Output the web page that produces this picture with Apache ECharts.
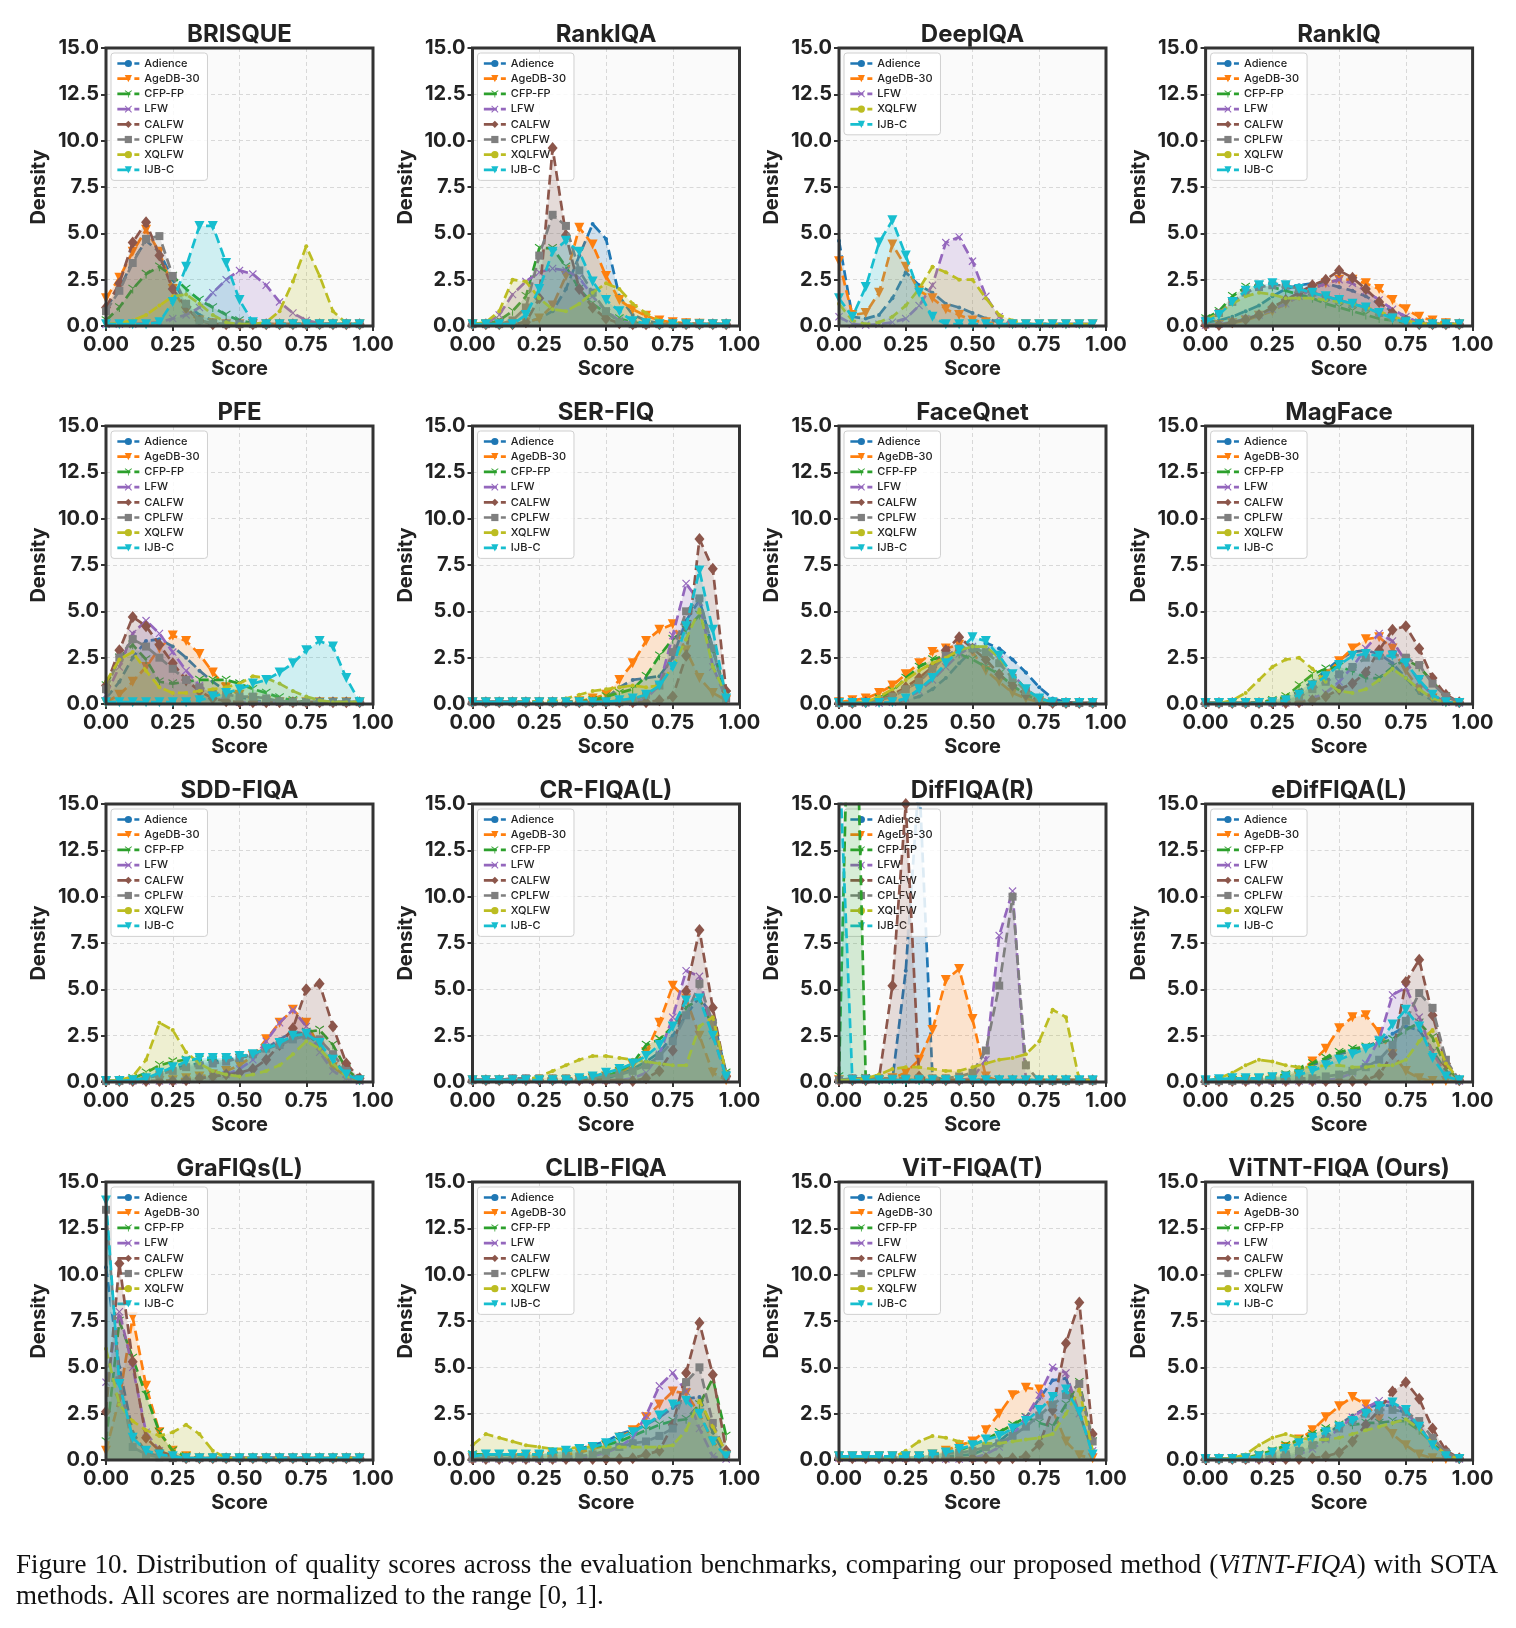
<!DOCTYPE html>
<html>
<head>
<meta charset="utf-8">
<script src="https://cdn.jsdelivr.net/npm/echarts@6/dist/echarts.min.js"></script>
<style>
html,body{margin:0;padding:0;background:#fff;}
#chart{width:1516px;height:1628px;}
</style>
</head>
<body>
<div id="chart"></div>
<script>
// ---------------- DATA ----------------
const SCORE_BINS = [0.00,0.05,0.10,0.15,0.20,0.25,0.30,0.35,0.40,0.45,0.50,0.55,0.60,0.65,0.70,0.75,0.80,0.85,0.90,0.95];
const X_TICKS = [0, 0.25, 0.5, 0.75, 1.0];
const Y_TICKS = [0, 2.5, 5, 7.5, 10, 12.5, 15];
const ALL_SETS = ['Adience','AgeDB-30','CFP-FP','LFW','CALFW','CPLFW','XQLFW','IJB-C'];
const DEEPIQA_SETS = ['Adience','AgeDB-30','LFW','XQLFW','IJB-C'];
const PANEL_TITLES = ['BRISQUE','RankIQA','DeepIQA','RankIQ','PFE','SER-FIQ','FaceQnet','MagFace',
  'SDD-FIQA','CR-FIQA(L)','DifFIQA(R)','eDifFIQA(L)','GraFIQs(L)','CLIB-FIQA','ViT-FIQA(T)','ViTNT-FIQA (Ours)'];

const BRISQUE = [
  [1.0,2.0,3.5,4.6,4.0,2.5,1.2,0.6,0.3,0.15,0.1,0.1,0.1,0.1,0.1,0.1,0.1,0.1,0.1,0.1],
  [1.5,2.6,4.0,5.2,4.0,2.0,0.8,0.3,0.15,0.1,0.1,0.1,0.1,0.1,0.1,0.1,0.1,0.1,0.1,0.1],
  [0.3,1.0,2.0,2.8,3.2,2.7,2.0,1.4,1.0,0.6,0.3,0.15,0.1,0.1,0.1,0.1,0.1,0.1,0.1,0.1],
  [0.1,0.1,0.1,0.15,0.2,0.4,0.6,1.0,1.8,2.5,3.0,2.8,2.2,1.3,0.7,0.3,0.15,0.1,0.1,0.1],
  [1.0,2.3,4.5,5.6,3.8,2.0,1.0,0.3,0.1,0.1,0.1,0.1,0.1,0.1,0.1,0.1,0.1,0.1,0.1,0.1],
  [0.8,1.9,3.4,4.7,4.85,2.7,1.2,0.3,0.15,0.1,0.1,0.1,0.1,0.1,0.1,0.1,0.1,0.1,0.1,0.1],
  [0.1,0.15,0.3,0.6,1.1,1.6,1.7,1.2,0.6,0.2,0.1,0.1,0.2,0.8,2.4,4.3,2.7,0.8,0.15,0.1],
  [0.1,0.1,0.1,0.1,0.2,1.3,3.2,5.4,5.4,3.4,1.4,0.2,0.1,0.1,0.1,0.1,0.1,0.1,0.1,0.1]
];
const RANKIQA = [
  [0.1,0.1,0.1,0.1,0.2,0.4,0.8,2.0,3.8,5.5,4.7,1.6,0.6,0.3,0.15,0.1,0.1,0.1,0.1,0.1],
  [0.1,0.1,0.1,0.1,0.2,0.4,1.1,2.7,5.3,4.4,2.7,1.4,0.9,0.55,0.3,0.2,0.15,0.12,0.1,0.1],
  [0.1,0.1,0.3,0.8,1.6,4.2,4.2,3.2,2.0,1.2,0.7,0.4,0.2,0.1,0.1,0.1,0.1,0.1,0.1,0.1],
  [0.1,0.1,0.6,1.7,2.4,2.9,3.1,3.0,2.6,1.6,0.8,0.3,0.1,0.1,0.1,0.1,0.1,0.1,0.1,0.1],
  [0.1,0.1,0.1,0.1,0.2,1.5,9.6,4.9,2.0,1.0,0.4,0.15,0.1,0.1,0.1,0.1,0.1,0.1,0.1,0.1],
  [0.1,0.1,0.1,0.3,1.0,3.8,6.0,5.4,3.0,1.8,0.8,0.2,0.1,0.1,0.1,0.1,0.1,0.1,0.1,0.1],
  [0.1,0.2,0.8,2.5,2.4,1.5,0.9,0.8,1.2,1.8,2.3,2.0,1.2,0.7,0.3,0.15,0.1,0.1,0.1,0.1],
  [0.1,0.1,0.1,0.1,0.6,2.0,4.0,4.6,4.0,2.4,1.4,0.8,0.25,0.15,0.1,0.1,0.1,0.1,0.1,0.1]
];
const DEEPIQA = [
  [4.6,0.5,0.4,0.6,1.5,2.9,2.2,1.8,1.2,1.0,0.7,0.4,0.2,0.1,0.1,0.1,0.1,0.1,0.1,0.1],
  [3.5,0.6,0.7,1.8,4.4,3.2,1.9,1.5,0.9,0.6,0.3,0.2,0.1,0.1,0.1,0.1,0.1,0.1,0.1,0.1],
  [0.5,0.1,0.05,0.1,0.2,0.4,1.1,2.2,4.5,4.8,3.5,1.6,0.5,0.1,0.1,0.1,0.1,0.1,0.1,0.1],
  [1.2,0.3,0.1,0.2,0.5,1.1,2.0,3.2,2.9,2.5,2.5,1.5,0.6,0.3,0.1,0.1,0.1,0.1,0.1,0.1],
  [1.5,0.5,2.1,4.5,5.7,3.8,1.8,0.5,0.1,0.1,0.1,0.1,0.1,0.1,0.1,0.1,0.1,0.1,0.1,0.1]
];
const RANKIQ = [
  [0.2,0.3,0.5,0.8,1.1,1.6,2.0,2.2,2.3,2.3,2.1,1.9,1.6,1.2,0.8,0.5,0.25,0.1,0.1,0.1],
  [0.05,0.05,0.15,0.3,0.55,0.8,1.2,1.6,2.0,2.3,2.5,2.5,2.3,2.0,1.4,0.9,0.5,0.3,0.15,0.1],
  [0.4,0.8,1.6,2.1,2.2,2.1,1.9,1.7,1.5,1.2,1.0,0.8,0.6,0.4,0.3,0.15,0.1,0.1,0.1,0.1],
  [0.05,0.1,0.2,0.4,0.6,0.9,1.2,1.6,2.0,2.3,2.5,2.3,1.9,1.4,0.9,0.5,0.2,0.1,0.1,0.1],
  [0.05,0.05,0.2,0.35,0.6,1.0,1.4,1.8,2.2,2.5,3.0,2.6,2.0,1.3,0.7,0.3,0.1,0.1,0.1,0.1],
  [0.3,0.7,1.3,1.8,2.1,2.2,2.2,2.0,1.8,1.6,1.4,1.2,1.0,0.7,0.5,0.3,0.15,0.1,0.1,0.1],
  [0.3,0.7,1.2,1.6,1.8,1.7,1.5,1.5,1.5,1.4,1.3,1.2,1.0,0.8,0.5,0.3,0.15,0.1,0.1,0.1],
  [0.2,0.6,1.3,1.9,2.2,2.3,2.2,2.0,1.8,1.6,1.4,1.2,1.0,0.7,0.4,0.2,0.1,0.1,0.1,0.1]
];
const PFE = [
  [0.3,1.2,2.5,3.4,3.5,3.1,2.5,1.8,1.2,0.7,0.4,0.2,0.1,0.1,0.1,0.1,0.1,0.1,0.1,0.1],
  [0.1,0.5,1.2,2.0,3.0,3.7,3.4,2.7,1.7,0.9,0.5,0.3,0.15,0.1,0.1,0.1,0.1,0.1,0.1,0.1],
  [1.0,2.5,3.2,2.4,1.2,1.1,1.2,1.3,1.3,1.3,1.1,0.8,0.6,0.35,0.2,0.1,0.1,0.1,0.1,0.1],
  [0.5,2.0,3.8,4.5,3.8,2.8,1.8,1.0,0.5,0.2,0.1,0.1,0.1,0.1,0.1,0.1,0.1,0.1,0.1,0.1],
  [1.0,2.9,4.7,4.2,3.2,2.2,1.3,0.7,0.3,0.15,0.1,0.1,0.1,0.1,0.1,0.1,0.1,0.1,0.1,0.1],
  [0.8,2.5,3.5,3.1,2.5,1.9,1.3,0.9,0.6,0.5,0.4,0.4,0.3,0.15,0.1,0.1,0.1,0.1,0.1,0.1],
  [1.2,2.4,2.8,1.8,0.9,0.6,0.6,0.7,0.8,0.9,1.1,1.5,1.4,1.1,0.7,0.4,0.2,0.1,0.1,0.1],
  [0.1,0.1,0.1,0.1,0.1,0.1,0.1,0.2,0.4,0.6,0.8,1.1,1.3,1.7,2.2,2.9,3.4,3.1,1.4,0.1]
];
const SERFIQ = [
  [0.1,0.1,0.1,0.1,0.1,0.1,0.1,0.1,0.1,0.2,0.3,0.9,1.3,1.4,1.5,2.5,4.5,5.6,3.0,0.3],
  [0.1,0.1,0.1,0.1,0.1,0.1,0.1,0.1,0.15,0.3,0.5,1.3,2.2,3.4,4.0,4.3,2.9,1.4,0.6,0.2],
  [0.1,0.1,0.1,0.1,0.1,0.1,0.1,0.1,0.15,0.2,0.4,0.6,0.8,1.5,2.6,3.5,4.0,4.8,3.0,0.5],
  [0.1,0.1,0.1,0.1,0.1,0.1,0.1,0.1,0.1,0.1,0.1,0.1,0.1,0.3,1.0,3.7,6.5,5.5,2.0,0.3],
  [0.1,0.1,0.1,0.1,0.1,0.1,0.1,0.1,0.1,0.1,0.1,0.1,0.1,0.1,0.2,0.4,2.6,8.9,7.3,0.7],
  [0.1,0.1,0.1,0.1,0.1,0.1,0.1,0.1,0.1,0.1,0.1,0.1,0.2,0.5,1.0,2.8,5.0,5.7,3.0,0.3],
  [0.05,0.05,0.05,0.1,0.1,0.15,0.2,0.3,0.5,0.7,0.8,0.9,1.0,0.9,1.0,2.0,3.5,5.1,2.0,0.5],
  [0.1,0.1,0.1,0.1,0.1,0.1,0.1,0.1,0.1,0.1,0.1,0.2,0.3,0.5,1.0,2.0,4.2,7.2,4.0,0.3]
];
const FACEQNET = [
  [0.05,0.05,0.05,0.05,0.05,0.2,0.4,0.8,1.4,2.2,2.9,3.3,3.0,2.4,1.7,0.9,0.3,0.1,0.05,0.05],
  [0.1,0.2,0.3,0.6,1.0,1.6,2.2,2.8,3.0,3.2,2.8,1.8,1.2,0.6,0.3,0.1,0.05,0.05,0.05,0.05],
  [0.05,0.05,0.1,0.3,0.7,1.4,2.0,2.4,2.6,2.7,2.4,2.0,1.6,1.0,0.5,0.2,0.1,0.05,0.05,0.05],
  [0.05,0.05,0.05,0.05,0.1,0.3,0.7,1.3,2.0,2.7,3.1,2.9,2.4,1.6,0.8,0.3,0.1,0.05,0.05,0.05],
  [0.05,0.05,0.1,0.2,0.5,0.9,1.4,2.0,2.9,3.6,3.0,2.4,1.6,1.0,0.5,0.2,0.05,0.05,0.05,0.05],
  [0.05,0.05,0.1,0.2,0.4,0.8,1.2,1.9,2.6,3.0,3.0,2.8,2.2,1.4,0.7,0.3,0.1,0.05,0.05,0.05],
  [0.05,0.05,0.1,0.4,0.8,1.3,1.8,2.2,2.5,2.9,3.1,3.1,2.5,1.6,0.8,0.3,0.1,0.05,0.05,0.05],
  [0.05,0.05,0.05,0.05,0.1,0.3,0.8,1.4,2.2,2.9,3.6,3.4,2.6,1.6,0.8,0.3,0.1,0.05,0.05,0.05]
];
const MAGFACE = [
  [0.05,0.05,0.05,0.05,0.1,0.2,0.3,0.7,1.2,1.8,2.4,2.8,2.9,2.7,2.2,1.4,0.6,0.2,0.05,0.05],
  [0.05,0.05,0.05,0.05,0.05,0.1,0.2,0.5,1.0,1.6,2.3,3.0,3.5,3.6,3.0,1.8,0.8,0.3,0.1,0.05],
  [0.05,0.05,0.05,0.05,0.1,0.2,0.4,1.0,1.6,1.9,2.0,1.8,1.4,1.4,2.0,2.4,2.0,1.2,0.4,0.1],
  [0.05,0.05,0.05,0.05,0.05,0.05,0.05,0.1,0.3,0.6,1.2,2.0,3.0,3.8,3.4,2.3,1.2,0.5,0.1,0.05],
  [0.05,0.05,0.05,0.05,0.05,0.05,0.05,0.1,0.2,0.4,0.8,1.1,1.7,2.9,4.0,4.2,3.0,1.4,0.5,0.1],
  [0.05,0.05,0.05,0.05,0.05,0.1,0.2,0.4,0.8,1.2,1.6,2.0,2.5,2.6,2.7,2.5,2.1,1.1,0.4,0.1],
  [0.05,0.05,0.2,0.6,1.3,2.0,2.4,2.5,1.9,1.2,0.7,0.6,0.8,1.3,1.9,1.4,0.8,0.3,0.1,0.05],
  [0.05,0.05,0.05,0.05,0.05,0.1,0.2,0.5,1.0,1.5,2.1,2.6,2.7,2.6,2.6,2.2,1.3,0.5,0.1,0.05]
];
const SDDFIQA = [
  [0.05,0.05,0.1,0.2,0.4,0.7,0.9,1.0,1.1,1.2,1.3,1.5,1.8,2.3,2.7,2.6,2.0,1.2,0.4,0.1],
  [0.05,0.05,0.05,0.05,0.05,0.1,0.2,0.3,0.4,0.6,0.9,1.4,2.3,3.2,3.9,3.2,1.9,0.8,0.3,0.1],
  [0.05,0.05,0.2,0.5,0.9,1.1,1.2,1.2,1.2,1.2,1.3,1.5,1.8,2.1,2.4,2.7,2.8,2.0,0.7,0.1],
  [0.05,0.05,0.05,0.05,0.05,0.05,0.1,0.2,0.3,0.4,0.7,1.2,2.2,3.2,3.9,3.0,1.6,0.6,0.2,0.05],
  [0.05,0.05,0.05,0.05,0.05,0.05,0.1,0.2,0.3,0.4,0.5,0.7,1.2,2.0,2.9,5.0,5.3,3.0,1.0,0.2],
  [0.05,0.05,0.1,0.2,0.4,0.6,0.8,0.9,1.0,1.1,1.3,1.5,1.8,2.0,2.3,2.5,2.3,1.5,0.6,0.1],
  [0.05,0.1,0.3,1.2,3.2,2.8,1.6,1.0,0.6,0.4,0.3,0.4,0.6,0.9,1.5,2.2,1.8,1.0,0.3,0.1],
  [0.05,0.05,0.1,0.2,0.5,0.8,1.1,1.3,1.3,1.3,1.4,1.5,1.8,2.1,2.5,2.6,2.1,1.2,0.4,0.1]
];
const CRFIQA = [
  [0.1,0.1,0.1,0.1,0.1,0.1,0.1,0.1,0.1,0.15,0.2,0.4,0.7,1.1,1.6,2.5,3.6,4.6,3.5,0.5],
  [0.1,0.1,0.1,0.1,0.1,0.1,0.1,0.1,0.1,0.2,0.3,0.5,0.9,1.6,3.2,5.2,4.5,2.5,0.5,0.1],
  [0.1,0.1,0.1,0.1,0.1,0.1,0.1,0.1,0.15,0.2,0.3,0.6,1.0,2.0,2.3,3.0,4.0,4.5,3.0,0.5],
  [0.1,0.1,0.1,0.1,0.1,0.1,0.1,0.1,0.1,0.1,0.1,0.1,0.2,0.5,1.5,3.5,6.0,5.7,2.5,0.3],
  [0.1,0.1,0.1,0.1,0.1,0.1,0.1,0.1,0.1,0.1,0.1,0.1,0.05,0.2,0.6,1.7,4.9,8.2,4.0,0.3],
  [0.1,0.1,0.1,0.2,0.2,0.2,0.2,0.2,0.2,0.25,0.3,0.4,0.6,0.9,1.4,2.2,3.6,5.3,3.2,0.4],
  [0.05,0.05,0.05,0.05,0.1,0.3,0.6,0.9,1.2,1.4,1.4,1.3,1.2,1.1,1.0,0.9,0.9,3.0,3.5,0.5],
  [0.1,0.1,0.1,0.1,0.1,0.1,0.1,0.1,0.2,0.3,0.5,0.7,1.0,1.4,2.0,3.0,4.4,4.5,2.5,0.3]
];
const DIFFIQA = [
  [0.1,0.1,0.1,0.1,0.1,6.0,16.5,0.3,0.1,0.1,0.1,0.1,0.1,0.1,0.1,0.1,0.1,0.1,0.1,0.1],
  [0.1,0.1,0.1,0.1,0.2,0.5,1.2,2.8,5.5,6.1,3.4,0.3,0.05,0.05,0.05,0.05,0.05,0.05,0.05,0.05],
  [0.3,30.0,0.2,0.1,0.1,0.1,0.1,0.1,0.1,0.1,0.1,0.1,0.1,0.1,0.1,0.1,0.1,0.1,0.1,0.1],
  [0.1,0.1,0.1,0.1,0.1,0.1,0.1,0.1,0.1,0.1,0.2,1.2,7.9,10.3,0.1,0.1,0.1,0.1,0.1,0.1],
  [0.1,0.1,0.1,0.2,5.2,15.0,0.3,0.1,0.1,0.1,0.1,0.1,0.1,0.1,0.1,0.1,0.1,0.1,0.1,0.1],
  [0.1,0.2,0.2,0.2,0.2,0.2,0.2,0.2,0.2,0.3,0.5,1.7,5.2,10.0,0.9,0.05,0.05,0.05,0.05,0.05],
  [0.1,0.1,0.2,0.4,0.7,0.8,0.8,0.7,0.6,0.6,0.8,1.0,1.2,1.3,1.5,2.2,3.9,3.5,0.1,0.1],
  [18.0,0.1,0.1,0.1,0.1,0.1,0.1,0.1,0.1,0.1,0.1,0.1,0.1,0.1,0.1,0.1,0.1,0.1,0.1,0.1]
];
const EDIFFIQA = [
  [0.05,0.05,0.05,0.1,0.15,0.2,0.3,0.6,0.9,1.2,1.5,1.7,1.9,2.2,2.6,3.0,2.8,1.7,0.6,0.1],
  [0.05,0.05,0.05,0.1,0.15,0.2,0.3,0.6,1.1,1.8,2.9,3.5,3.6,2.7,1.5,0.6,0.2,0.05,0.05,0.05],
  [0.05,0.05,0.1,0.15,0.2,0.3,0.4,0.7,1.0,1.3,1.6,1.8,1.9,2.1,2.3,2.8,3.2,2.4,0.8,0.1],
  [0.05,0.05,0.05,0.05,0.05,0.05,0.05,0.05,0.05,0.1,0.2,0.5,1.0,2.3,4.7,5.1,3.5,1.6,0.4,0.05],
  [0.05,0.05,0.05,0.05,0.05,0.05,0.05,0.05,0.05,0.05,0.05,0.05,0.1,0.4,1.5,5.4,6.6,3.6,1.0,0.1],
  [0.05,0.05,0.05,0.1,0.1,0.1,0.15,0.2,0.2,0.3,0.4,0.6,0.8,1.2,2.0,3.3,4.8,4.0,1.2,0.1],
  [0.05,0.2,0.5,0.9,1.2,1.1,0.9,0.8,0.8,0.9,0.9,0.8,0.8,0.9,0.9,1.2,2.2,2.8,1.0,0.1],
  [0.1,0.15,0.2,0.2,0.2,0.25,0.3,0.4,0.6,0.9,1.2,1.5,1.8,2.2,3.1,3.9,3.0,1.3,0.3,0.1]
];
const GRAFIQS = [
  [10.4,5.0,1.5,0.4,0.2,0.1,0.1,0.1,0.1,0.1,0.1,0.1,0.1,0.1,0.1,0.1,0.1,0.1,0.1,0.1],
  [0.5,3.3,7.7,4.0,1.5,0.5,0.2,0.1,0.1,0.1,0.1,0.1,0.1,0.1,0.1,0.1,0.1,0.1,0.1,0.1],
  [1.0,7.5,5.5,3.5,1.5,0.5,0.2,0.1,0.1,0.1,0.1,0.1,0.1,0.1,0.1,0.1,0.1,0.1,0.1,0.1],
  [4.2,8.0,5.0,1.5,0.5,0.2,0.1,0.1,0.1,0.1,0.1,0.1,0.1,0.1,0.1,0.1,0.1,0.1,0.1,0.1],
  [2.6,10.6,5.3,1.2,0.5,0.2,0.1,0.1,0.1,0.1,0.1,0.1,0.1,0.1,0.1,0.1,0.1,0.1,0.1,0.1],
  [13.5,4.3,0.7,0.3,0.15,0.1,0.1,0.1,0.1,0.1,0.1,0.1,0.1,0.1,0.1,0.1,0.1,0.1,0.1,0.1],
  [6.0,3.0,2.1,1.6,1.3,1.5,1.9,1.4,0.5,0.1,0.1,0.1,0.1,0.1,0.1,0.1,0.1,0.1,0.1,0.1],
  [14.0,4.1,1.2,0.5,0.3,0.2,0.1,0.1,0.1,0.1,0.1,0.1,0.1,0.1,0.1,0.1,0.1,0.1,0.1,0.1]
];
const CLIBFIQA = [
  [0.3,0.3,0.3,0.3,0.3,0.3,0.4,0.5,0.6,0.8,1.0,1.4,1.6,1.9,2.3,2.8,3.3,3.4,1.5,0.2],
  [0.1,0.1,0.1,0.1,0.15,0.2,0.25,0.3,0.4,0.6,0.8,1.2,1.6,2.3,3.0,3.7,3.6,2.5,1.0,0.2],
  [0.3,0.3,0.3,0.3,0.3,0.3,0.4,0.5,0.6,0.7,0.8,1.0,1.3,1.6,1.9,2.1,2.2,3.0,4.4,1.3],
  [0.05,0.05,0.05,0.05,0.05,0.05,0.05,0.1,0.1,0.2,0.4,0.7,1.2,2.4,4.0,4.7,3.7,1.7,0.2,0.05],
  [0.05,0.05,0.05,0.05,0.05,0.05,0.05,0.05,0.05,0.05,0.05,0.05,0.1,0.3,0.5,1.9,4.7,7.4,4.6,0.5],
  [0.1,0.1,0.1,0.1,0.1,0.1,0.1,0.2,0.2,0.3,0.5,0.7,0.9,1.0,1.3,1.7,4.2,5.0,2.0,0.3],
  [0.8,1.4,1.2,1.0,0.8,0.7,0.6,0.6,0.7,0.7,0.7,0.7,0.7,0.7,0.7,0.8,1.6,3.2,1.8,0.4],
  [0.2,0.3,0.3,0.3,0.3,0.3,0.4,0.5,0.6,0.7,0.9,1.2,1.5,1.9,2.4,3.0,3.2,2.5,1.0,0.2]
];
const VITFIQA = [
  [0.2,0.2,0.2,0.2,0.2,0.2,0.2,0.2,0.2,0.25,0.3,0.6,1.0,1.6,2.3,3.3,4.3,4.4,2.5,0.5],
  [0.2,0.2,0.2,0.2,0.2,0.2,0.2,0.3,0.5,0.8,1.0,1.6,2.5,3.5,3.9,3.8,2.7,1.0,0.25,0.1],
  [0.2,0.2,0.2,0.2,0.2,0.2,0.2,0.3,0.4,0.5,0.8,1.1,1.5,1.9,2.3,2.0,1.8,3.0,4.2,1.0],
  [0.1,0.1,0.1,0.1,0.1,0.1,0.1,0.1,0.05,0.05,0.1,0.3,0.7,1.3,2.3,3.5,5.0,4.7,2.5,0.5],
  [0.1,0.1,0.1,0.1,0.1,0.1,0.1,0.1,0.1,0.1,0.1,0.1,0.05,0.1,0.2,0.85,2.7,6.3,8.5,1.4],
  [0.2,0.2,0.2,0.2,0.2,0.2,0.2,0.3,0.35,0.4,0.5,0.7,0.9,1.3,1.8,2.4,3.0,3.5,4.1,1.0],
  [0.05,0.05,0.05,0.05,0.1,0.5,1.0,1.3,1.2,1.0,0.9,0.9,0.9,1.0,1.1,1.2,1.4,2.5,3.8,0.5],
  [0.2,0.2,0.2,0.2,0.2,0.2,0.2,0.3,0.4,0.6,0.8,1.1,1.3,1.7,2.1,2.7,3.4,3.8,2.6,0.3]
];
const VITNTFIQA = [
  [0.05,0.05,0.05,0.05,0.05,0.1,0.2,0.4,0.8,1.3,1.9,2.4,2.8,3.0,2.9,2.5,1.7,0.9,0.3,0.1],
  [0.05,0.05,0.05,0.1,0.2,0.4,0.7,1.1,1.6,2.3,2.9,3.4,3.0,2.2,1.4,0.8,0.3,0.1,0.05,0.05],
  [0.05,0.05,0.05,0.1,0.3,0.5,0.8,1.1,1.4,1.7,1.9,1.9,2.0,2.0,2.1,2.1,1.6,0.9,0.3,0.05],
  [0.05,0.05,0.05,0.05,0.05,0.05,0.1,0.3,0.6,1.1,1.7,2.3,2.8,3.2,3.1,2.6,1.8,0.9,0.3,0.05],
  [0.05,0.05,0.05,0.05,0.05,0.05,0.05,0.05,0.1,0.2,0.4,1.0,1.9,2.7,3.7,4.2,3.3,1.7,0.5,0.1],
  [0.05,0.05,0.05,0.05,0.1,0.2,0.3,0.5,0.8,1.2,1.7,2.1,2.5,2.7,2.7,2.6,2.1,1.2,0.4,0.1],
  [0.05,0.05,0.1,0.3,0.8,1.2,1.4,1.2,1.1,1.1,1.2,1.4,1.6,1.8,2.0,2.2,1.7,0.9,0.3,0.05],
  [0.05,0.05,0.05,0.1,0.2,0.4,0.6,0.9,1.2,1.5,1.8,2.1,2.5,2.9,3.1,2.7,1.8,0.8,0.2,0.05]
];

const PANEL_DATA = [BRISQUE,RANKIQA,DEEPIQA,RANKIQ,PFE,SERFIQ,FACEQNET,MAGFACE,
  SDDFIQA,CRFIQA,DIFFIQA,EDIFFIQA,GRAFIQS,CLIBFIQA,VITFIQA,VITNTFIQA];
const PANEL_SETS = PANEL_TITLES.map(t => t === 'DeepIQA' ? DEEPIQA_SETS : ALL_SETS);

const CAPTION_LINE1 = [
  [['Figure',0]],[['10.',0]],[['Distribution',0]],[['of',0]],[['quality',0]],[['scores',0]],[['across',0]],
  [['the',0]],[['evaluation',0]],[['benchmarks,',0]],[['comparing',0]],[['our',0]],[['proposed',0]],
  [['method',0]],[['(',0],['ViTNT-FIQA',1],[')',0]],[['with',0]],[['SOTA',0]]
];
const CAPTION_LINE2 = 'methods. All scores are normalized to the range [0, 1].';

// ---------------- STYLE ----------------
const COLORS = {
  'Adience':'#1f77b4','AgeDB-30':'#ff7f0e','CFP-FP':'#2ca02c','LFW':'#9467bd',
  'CALFW':'#8c564b','CPLFW':'#7f7f7f','XQLFW':'#bcbd22','IJB-C':'#17becf'
};
const TRI_DOWN_Y = 'path://M9,10 L9,20 L11,20 L11,10 Z M10,9 L1.8,4.2 L0.8,6 L9,10.8 Z M10,9 L18.2,4.2 L19.2,6 L11,10.8 Z';
const X_MARK = 'path://M1,0 L5,4 L9,0 L10,1 L6,5 L10,9 L9,10 L5,6 L1,10 L0,9 L4,5 L0,1 Z';
const MARKERS = {
  'Adience':{symbol:'circle',size:4,rot:0},
  'AgeDB-30':{symbol:'triangle',size:10,rot:180},
  'CFP-FP':{symbol:TRI_DOWN_Y,size:9,rot:0},
  'LFW':{symbol:X_MARK,size:8,rot:0},
  'CALFW':{symbol:'diamond',size:[10,12],rot:0},
  'CPLFW':{symbol:'rect',size:8,rot:0},
  'XQLFW':{symbol:'circle',size:4,rot:0},
  'IJB-C':{symbol:'triangle',size:10,rot:180}
};
const FONT = 'Inter, "DejaVu Sans", sans-serif';
const COL_LEFT = [106, 472.5, 839, 1205.6];
const ROW_TOP = [48, 426, 804, 1182];
const PW = 267, PH = 278;

// ---------------- BUILD ----------------
const grid=[], xAxis=[], yAxis=[], series=[], legend=[], title=[], graphic=[];
PANEL_TITLES.forEach((name, p) => {
  const r = Math.floor(p/4), c = p%4;
  const L = COL_LEFT[c], T = ROW_TOP[r];
  grid.push({left:L, top:T, width:PW, height:PH, show:true, backgroundColor:'#fafafa',
    borderColor:'#333', borderWidth:0, containLabel:false});
  graphic.push({type:'rect', silent:true, z:50, shape:{x:L, y:T, width:PW, height:PH},
    style:{fill:null, stroke:'#333', lineWidth:3}});
  title.push({text:name, left:L+PW/2, top:T-25, textAlign:'center', padding:0,
    textStyle:{fontFamily:FONT, fontSize:24, fontWeight:'bold', color:'#222'}});
  xAxis.push({type:'value', gridIndex:p, min:0, max:1, interval:0.25,
    axisLine:{show:false},
    axisTick:{show:true, length:5, lineStyle:{color:'#333', width:2}},
    axisLabel:{formatter:v=>v.toFixed(2), fontFamily:FONT, fontSize:20, fontWeight:'bold', color:'#222', margin:9},
    splitLine:{show:true, lineStyle:{color:'#d8d8d8', type:[4,3], width:1}},
    name:'Score', nameLocation:'middle', nameGap:33,
    nameTextStyle:{fontFamily:FONT, fontSize:20, fontWeight:'bold', color:'#222'}});
  yAxis.push({type:'value', gridIndex:p, min:0, max:15, interval:2.5,
    axisLine:{show:false},
    axisTick:{show:true, length:5, lineStyle:{color:'#333', width:2}},
    axisLabel:{formatter:v=>v.toFixed(1), fontFamily:FONT, fontSize:20, fontWeight:'bold', color:'#222', margin:7},
    splitLine:{show:true, lineStyle:{color:'#d8d8d8', type:[4,3], width:1}},
    name:'Density', nameLocation:'middle', nameGap:57,
    nameTextStyle:{fontFamily:FONT, fontSize:20, fontWeight:'bold', color:'#222'}});
  const sets = PANEL_SETS[p];
  sets.forEach((ds, k) => {
    const col = COLORS[ds], m = MARKERS[ds];
    series.push({
      type:'line', name:ds, xAxisIndex:p, yAxisIndex:p,
      data: SCORE_BINS.map((x,i)=>[x, PANEL_DATA[p][k][i]]),
      symbol:m.symbol, symbolSize:m.size, symbolRotate:m.rot, showSymbol:true, showAllSymbol:true,
      lineStyle:{color:col, width:2.7, type:[10,5]},
      itemStyle:{color:col, borderWidth:0},
      areaStyle:{color:col, opacity:0.19},
      clip:true, animation:false, silent:true, z:2+k
    });
  });
  legend.push({data:sets, orient:'vertical', left:L+5, top:T+5,
    itemWidth:22, itemHeight:9, itemGap:2.2,
    backgroundColor:'rgba(255,255,255,0.85)', borderColor:'#d0d0d0', borderWidth:1, borderRadius:3,
    padding:[4,8,4,5], selectedMode:false,
    lineStyle:{type:[13,4], width:2.7},
    textStyle:{fontFamily:FONT, fontSize:11, fontWeight:500, color:'#222', lineHeight:13}});
});

// caption (justified first line)
const CAP_FONT = '"Liberation Serif", "Times New Roman", serif';
const CAP_SIZE = 27;
const mctx = document.createElement('canvas').getContext('2d');
function segW(t, it){ mctx.font = (it?'italic ':'') + CAP_SIZE + 'px ' + CAP_FONT; return mctx.measureText(t).width; }
(function(){
  const x0 = 16, x1 = 1498, y = 1566;
  const widths = CAPTION_LINE1.map(w => w.reduce((s,sg)=>s+segW(sg[0],sg[1]),0));
  const total = widths.reduce((a,b)=>a+b,0);
  const gap = Math.max(4, (x1-x0-total)/(CAPTION_LINE1.length-1));
  let x = x0;
  CAPTION_LINE1.forEach((w,i) => {
    let xx = x;
    w.forEach(sg => {
      graphic.push({type:'text', x:xx, y:y, silent:true,
        style:{text:sg[0], font:(sg[1]?'italic ':'')+CAP_SIZE+'px '+CAP_FONT, fill:'#111', verticalAlign:'middle'}});
      xx += segW(sg[0],sg[1]);
    });
    x += widths[i] + gap;
  });
  graphic.push({type:'text', x:x0, y:1597, silent:true,
    style:{text:CAPTION_LINE2, font:CAP_SIZE+'px '+CAP_FONT, fill:'#111', verticalAlign:'middle'}});
})();

const chart = echarts.init(document.getElementById('chart'), null, {renderer:'canvas'});
chart.setOption({
  backgroundColor:'#ffffff',
  animation:false,
  title, grid, xAxis, yAxis, legend, series, graphic
});
</script>
</body>
</html>
